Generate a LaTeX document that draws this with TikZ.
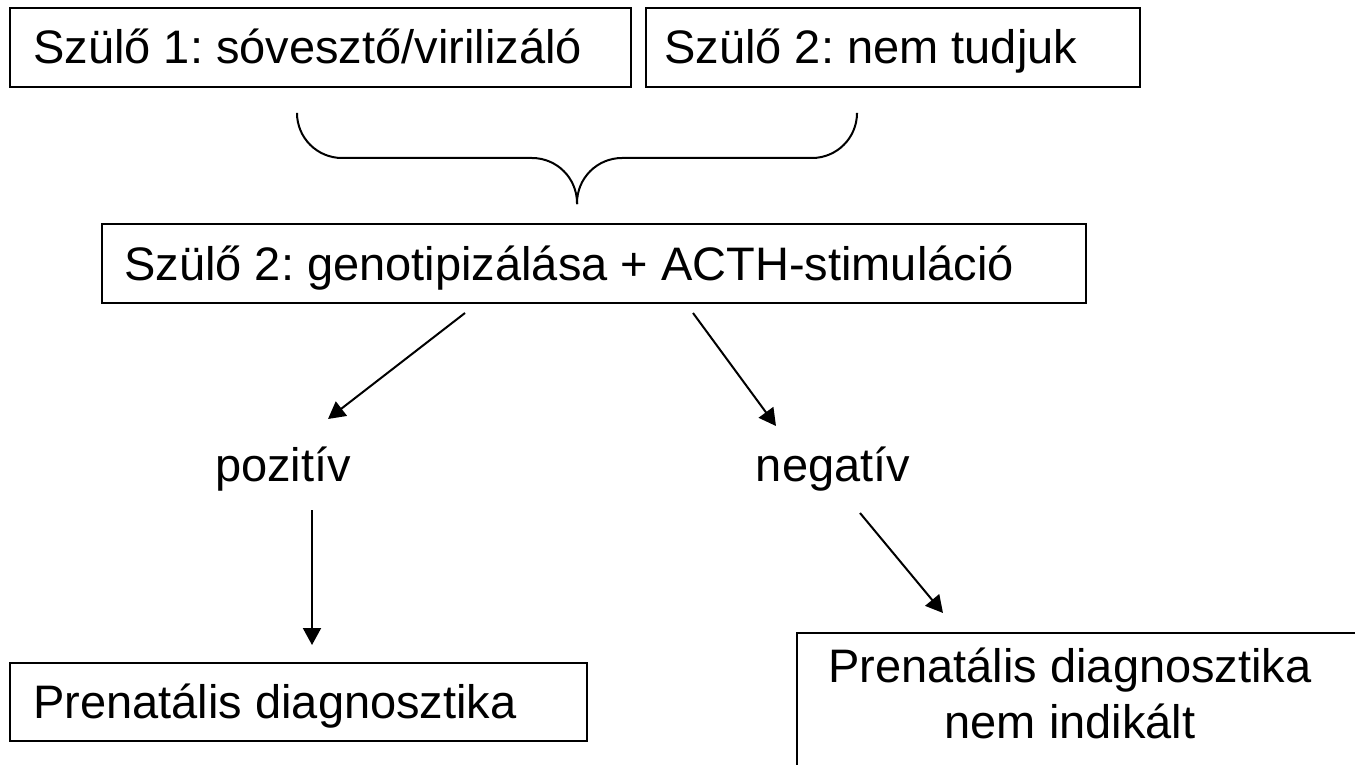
\documentclass[tikz,border=0pt]{standalone}
\usepackage{fontspec}
\setmainfont{Liberation Sans}
\usetikzlibrary{arrows.meta}
\frenchspacing
\begin{document}
\begin{tikzpicture}[x=0.5pt,y=-0.5pt,
  box/.style={draw, line width=1pt, inner sep=0pt, anchor=north west},
  txt/.style={inner sep=0pt, font=\fontsize{23.5}{28}\selectfont},
  arr/.style={line width=1pt, -{Triangle[length=8.5pt,width=9pt]}},
  bracepart/.style={line width=1pt, rounded corners=22.5pt}]
\clip (0,0) rectangle (1355,765);
% boxes
\node[box, minimum width=310.5pt, minimum height=39.5pt] (b1) at (9,7) {};
\node[box, minimum width=247pt, minimum height=39.5pt] (b2) at (645,7) {};
\node[box, minimum width=492pt, minimum height=39.5pt] (bm) at (101,223) {};
\node[box, minimum width=288.5pt, minimum height=39pt] (bl) at (9,662) {};
\node[box, minimum width=292pt, minimum height=84pt] (br) at (796,632) {};
% texts
\node[txt, anchor=base west] (t1) at (33,64) {Szülő 1: sóvesztő/virilizáló};
\node[txt, anchor=base west] (t2) at (664,64) {Szülő 2: nem tudjuk};
\node[txt, anchor=base west] (tm) at (124,280) {Szülő 2: genotipizálása + ACTH-stimuláció};
\node[txt, anchor=base west] (tl) at (33,718) {Prenatális diagnosztika};
\node[txt, anchor=base] (tr1) at (1070,682) {Prenatális diagnosztika};
\node[txt, anchor=base] (tr2) at (1070,738) {nem indikált};
\node[txt, anchor=base] (pos) at (283,481) {pozitív};
\node[txt, anchor=base] (neg) at (833,481) {negatív};
% brace
\coordinate (brL) at (297,114);
\coordinate (brR) at (857,114);
\coordinate (brT) at (577,204);
\draw[bracepart] (brL) -- (297,158) -- (577,158) -- (brT);
\draw[bracepart] (brR) -- (857,158) -- (577,158) -- (brT);
% arrows
\coordinate (a1s) at (465,313);
\coordinate (a1e) at (328,419);
\coordinate (a2s) at (693,313);
\coordinate (a2e) at (776,426);
\coordinate (a3s) at (312,510);
\coordinate (a3e) at (312,645);
\coordinate (a4s) at (860,513);
\coordinate (a4e) at (943,613);
\draw[arr] (a1s) -- (a1e);
\draw[arr] (a2s) -- (a2e);
\draw[arr] (a3s) -- (a3e);
\draw[arr] (a4s) -- (a4e);
\end{tikzpicture}
\end{document}
